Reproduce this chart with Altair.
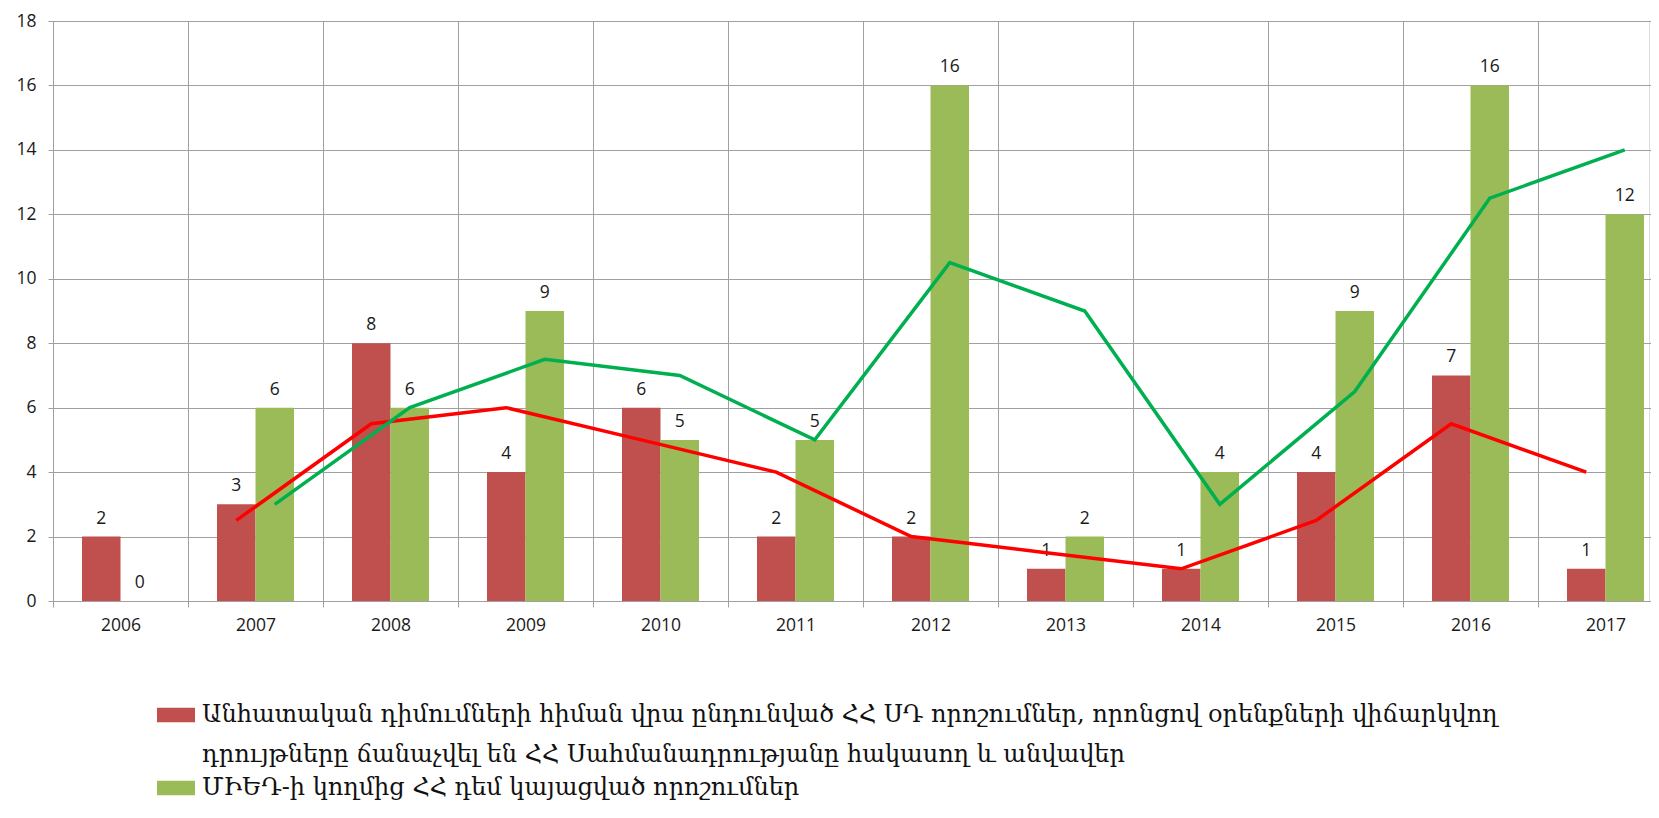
import altair as alt
import pandas as pd

years = ["2006", "2007", "2008", "2009", "2010", "2011",
         "2012", "2013", "2014", "2015", "2016", "2017"]

s1 = ("Անհատական դիմումների հիման վրա ընդունված ՀՀ ՍԴ որոշումներ, որոնցով օրենքների վիճարկվող\n"
      "դրույթները ճանաչվել են ՀՀ Սահմանադրությանը հակասող և անվավեր")
s2 = "ՄԻԵԴ-ի կողմից ՀՀ դեմ կայացված որոշումներ"

red_values = [2, 3, 8, 4, 6, 2, 2, 1, 1, 4, 7, 1]
green_values = [0, 6, 6, 9, 5, 5, 16, 2, 4, 9, 16, 12]

red_trend = [None, 2.5, 5.5, 6, 5, 4, 2, 1.5, 1, 2.5, 5.5, 4]
green_trend = [None, 3, 6, 7.5, 7, 5, 10.5, 9, 3, 6.5, 12.5, 14]

y_ticks = [0, 2, 4, 6, 8, 10, 12, 14, 16, 18]

bar_colors = ["#C0504D", "#9BBB59"]
line_colors = ["#FF0000", "#00B050"]

rows = []
for i, yr in enumerate(years):
    rows.append({"year": yr, "series": s1, "value": red_values[i], "trend": red_trend[i]})
    rows.append({"year": yr, "series": s2, "value": green_values[i], "trend": green_trend[i]})
df = pd.DataFrame(rows)

W, H = 1596, 580
GRID = "#A0A0A0"
AXFONT = "Open Sans"

x_enc = alt.X("year:N", sort=years,
              scale=alt.Scale(range=[0, 1620], paddingInner=0, paddingOuter=0),
              axis=alt.Axis(title=None, labelAngle=0, tickBand="extent", grid=True,
                            gridColor=GRID, domainColor=GRID, tickColor=GRID,
                            tickSize=6, labelPadding=9, labelFont=AXFONT,
                            labelFontSize=17.5, labelColor="#1a1a1a"))
xoff_enc = alt.XOffset("series:N", sort=[s1, s2],
                       scale=alt.Scale(domain=[s1, s2], paddingInner=0, paddingOuter=0.753))
y_scale = alt.Scale(domain=[0, 18], nice=False)

base = alt.Chart(df)

bars = base.mark_bar().encode(
    x=x_enc,
    xOffset=xoff_enc,
    y=alt.Y("value:Q", scale=y_scale,
            axis=alt.Axis(title=None, values=y_ticks, grid=True, gridColor=GRID,
                          domainColor=GRID, tickColor=GRID, tickSize=5, labelPadding=12,
                          labelFont=AXFONT, labelFontSize=17.5, labelColor="#1a1a1a")),
    color=alt.Color("series:N",
                    scale=alt.Scale(domain=[s1, s2], range=bar_colors),
                    legend=alt.Legend(title=None, orient="none", legendX=104, legendY=675,
                                      direction="vertical", padding=0,
                                      labelFont="DejaVu Serif", labelFontSize=24,
                                      labelColor="#111111", labelLimit=1600,
                                      labelExpr="split(datum.label, '\\n')",
                                      symbolType="M-1,-0.38H1V0.38H-1Z", symbolSize=1444,
                                      symbolStrokeWidth=0, labelOffset=7, rowPadding=2)),
)

labels = base.mark_text(dy=-13, baseline="alphabetic", font=AXFONT, fontSize=17.5,
                        color="#1a1a1a").encode(
    x=alt.X("year:N", sort=years),
    xOffset=alt.XOffset("series:N", sort=[s1, s2]),
    y=alt.Y("value:Q"),
    text=alt.Text("value:Q"),
)

lines = base.mark_line(strokeWidth=3.5).encode(
    x=alt.X("year:N", sort=years),
    xOffset=alt.XOffset("series:N", sort=[s1, s2]),
    y=alt.Y("trend:Q"),
    stroke=alt.Stroke("series:N", scale=alt.Scale(domain=[s1, s2], range=line_colors),
                      legend=None),
)

chart = alt.layer(bars, labels, lines).properties(
    width=W, height=H,
    autosize=alt.AutoSizeParams(type="none"),
    padding={"left": 45, "top": 13, "right": 2, "bottom": 205},
).configure_view(stroke=None).configure(
    style={"guide-label": {"lineHeight": 40}}
)

chart.save("out.html", embed_options={"renderer": "svg", "actions": False})
